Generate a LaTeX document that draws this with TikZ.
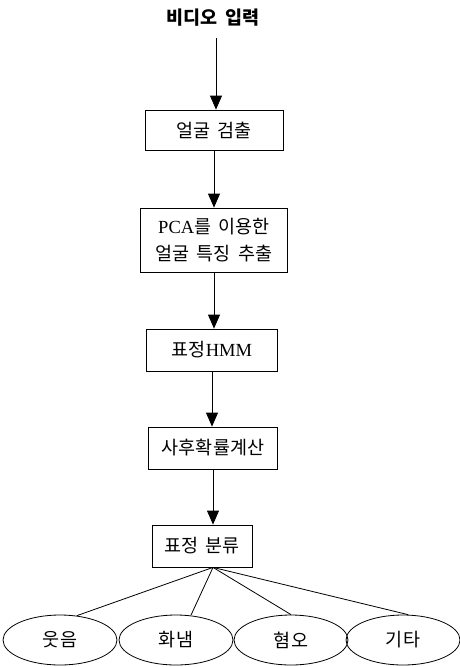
\documentclass[tikz,border=0pt]{standalone}
\usepackage{fontspec}
\setmainfont{Liberation Serif}
\newfontfamily\kr[WordSpace=1.8]{Noto Sans CJK KR}
\usetikzlibrary{arrows.meta,shapes.geometric}
\begin{document}
\begin{tikzpicture}[x=1pt,y=-1pt,
  box/.style={draw,line width=0.8pt,inner sep=0pt,align=center,font=\fontsize{18.5}{27}\selectfont},
  oval/.style={draw,ellipse,line width=0.8pt,inner sep=0pt,minimum width=114pt,minimum height=50pt,font=\fontsize{18.5}{22}\selectfont},
  arr/.style={line width=0.8pt,-{Triangle[length=14pt,width=12pt]}},
  ln/.style={line width=0.8pt}]
\useasboundingbox (0,0) rectangle (459,667);
\node[font=\fontsize{18.5}{22}\selectfont] (title) at (213,18) {\kr\bfseries 비디오 입력};
\node[box,minimum width=138pt,minimum height=40pt] (b1) at (214,130) {\kr 얼굴 검출};
\node[box,minimum width=147pt,minimum height=64pt] (b2) at (214,240) {PCA{\kr 를 이용한}\\{\kr 얼굴 특징 추출}};
\node[box,minimum width=131pt,minimum height=42pt] (b3) at (212,350) {{\kr 표정}HMM};
\node[box,minimum width=129pt,minimum height=42pt] (b4) at (213,448) {\kr 사후확률계산};
\node[box,minimum width=100pt,minimum height=42pt] (b5) at (202,546) {\kr 표정 분류};
\coordinate (a0) at (216,38);
\draw[arr] (a0) -- (a0 |- b1.north);
\draw[arr] (b1.south) -- (b1.south |- b2.north);
\draw[arr] (b2.south) -- (b2.south |- b3.north);
\draw[arr] (b3.south) -- (b3.south |- b4.north);
\draw[arr] (b4.south) -- (b4.south |- b5.north);
\coordinate (hub) at (b4.south |- b5.south);
\node[oval] (e1) at (60,640) {\kr 웃음};
\node[oval] (e2) at (176,640) {\kr 화냄};
\node[oval] (e3) at (291,640) {\kr 혐오};
\node[oval] (e4) at (403,640) {\kr 기타};
\draw[ln] (hub) -- ([xshift=17pt,yshift=-1pt]e1.north);
\draw[ln] (hub) -- ([xshift=15pt,yshift=-0.5pt]e2.north);
\draw[ln] (hub) -- (e3.north);
\draw[ln] (hub) -- ([xshift=5pt]e4.north);
\end{tikzpicture}
\end{document}
